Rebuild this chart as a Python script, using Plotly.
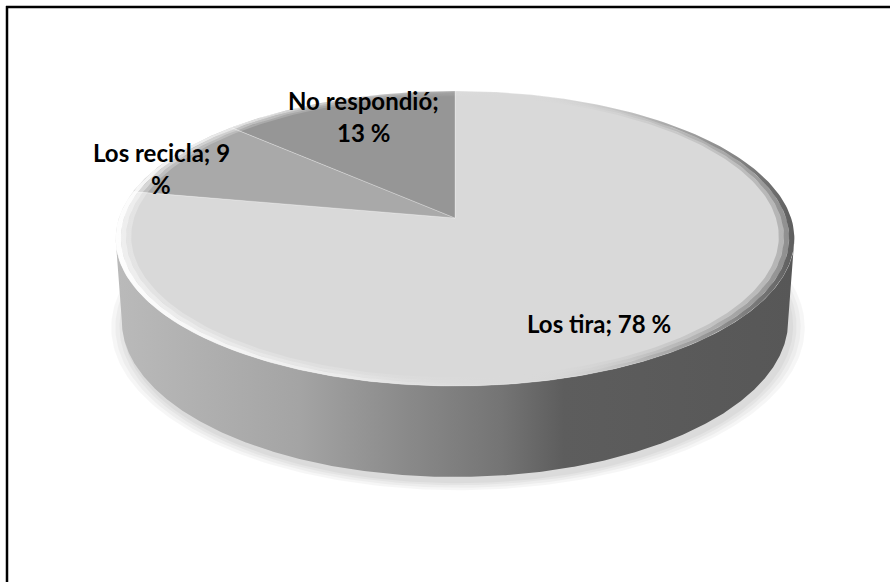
import numpy as np
import plotly.graph_objects as go

# ---------------- data ----------------
categories = ["Los tira", "Los recicla", "No respondió"]
values = [78, 9, 13]
slice_colors = ["#d9d9d9", "#a9a9a9", "#969696"]

# ---------------- view / projection (pixel space) ----------------
W, H = 890, 582
CX, CY = 455.0, 218.0          # screen position of pie centre
FOCAL = 2181.0
DIST = 6.49
TILT = np.radians(25.5)
DEPTH = 0.2736                 # cylinder height (radius units)


def proj(theta, r=1.0, yw=0.0):
    X = r * np.cos(theta)
    Z = r * np.sin(theta)
    c, s = np.cos(TILT), np.sin(TILT)
    yc = yw * c + Z * s
    zc = DIST + Z * c - yw * s
    return CX + FOCAL * X / zc, CY - FOCAL * yc / zc


fig = go.Figure()

# ---------------- soft shadow ----------------
th_full = np.linspace(0, 2 * np.pi, 361)
for k, rr in enumerate([1.04, 1.028, 1.016, 1.006]):
    sx, sy = proj(th_full, rr, -DEPTH)
    fig.add_trace(go.Scatter(x=sx + 3, y=sy + 5, mode="lines", fill="toself",
                             fillcolor="rgba(0,0,0,0.035)", line=dict(width=0),
                             hoverinfo="skip", showlegend=False))

# ---------------- side wall (front) ----------------
th = np.linspace(np.pi - 0.6, 2 * np.pi + 0.6, 721)
tx, ty = proj(th, 1.0, 0.0)
bx, by = proj(th, 1.0, -DEPTH)
it0, it1 = int(np.argmin(tx)), int(np.argmax(tx))
ib0, ib1 = int(np.argmin(bx)), int(np.argmax(bx))
side_x = np.concatenate([tx[it0:it1 + 1], bx[ib0:ib1 + 1][::-1]])
side_y = np.concatenate([ty[it0:it1 + 1], by[ib0:ib1 + 1][::-1]])
fig.add_trace(go.Scatter(
    x=side_x, y=side_y, mode="lines", fill="toself", line=dict(width=0),
    fillgradient=dict(type="horizontal",
                      colorscale=[[0, "#bababa"], [0.27, "#a4a4a4"], [0.42, "#8b8b8b"],
                                  [0.57, "#747474"], [0.66, "#5d5d5d"], [1, "#575757"]]),
    hoverinfo="skip", showlegend=False))

# ---------------- top slices ----------------
total = float(sum(values))
cum = 0.0
for cat, val, col in zip(categories, values, slice_colors):
    t0 = np.pi / 2 - 2 * np.pi * cum / total
    t1 = np.pi / 2 - 2 * np.pi * (cum + val) / total
    n = max(int(abs(t1 - t0) / (2 * np.pi) * 720), 8)
    ts = np.linspace(t0, t1, n)
    ax, ay = proj(ts)
    xs = np.concatenate([[CX], ax, [CX]])
    ys = np.concatenate([[CY], ay, [CY]])
    fig.add_trace(go.Scatter(x=xs, y=ys, mode="lines", fill="toself", fillcolor=col,
                             line=dict(width=0.6, color="rgba(255,255,255,0.45)"),
                             hoverinfo="skip", showlegend=False, name=cat))
    cum += val

# ---------------- bevel rim ----------------
for (r_out, r_in, a) in [(1.0, 0.985, 1.0), (0.985, 0.97, 0.6), (0.97, 0.955, 0.3)]:
    ox, oy = proj(th_full, r_out)
    ix, iy = proj(th_full[::-1], r_in)
    fig.add_trace(go.Scatter(
        x=np.concatenate([ox, ix]), y=np.concatenate([oy, iy]), mode="lines",
        fill="toself", line=dict(width=0),
        fillgradient=dict(type="horizontal",
                          colorscale=[[0, f"rgba(255,255,255,{0.95*a})"],
                                      [0.35, f"rgba(255,255,255,{0.45*a})"],
                                      [0.6, "rgba(217,217,217,0)"],
                                      [0.8, f"rgba(120,120,120,{0.45*a})"],
                                      [1, f"rgba(80,80,80,{0.9*a})"]]),
        hoverinfo="skip", showlegend=False))

# ---------------- data labels ----------------
label_lines = [
    [f"{categories[0]}; {values[0]} %"],
    [f"{categories[1]}; {values[1]}", "%"],
    [f"{categories[2]};", f"{values[2]} %"],
]
label_anchor = [(599, 323), (161, 152), (363, 100)]
LINE_GAP = 32
annotations = []
for lines, (lx, ly) in zip(label_lines, label_anchor):
    for j, txt in enumerate(lines):
        annotations.append(dict(x=lx, y=ly + j * LINE_GAP, xref="x", yref="y", text=txt,
                                showarrow=False, xanchor="center", yanchor="middle",
                                font=dict(family="Lato", size=24, color="#000000",
                                          weight="bold")))

fig.update_layout(
    width=W, height=H, margin=dict(l=0, r=0, t=0, b=0),
    paper_bgcolor="white", plot_bgcolor="white",
    xaxis=dict(range=[0, W], visible=False, fixedrange=True),
    yaxis=dict(range=[H, 0], visible=False, fixedrange=True),
    showlegend=False, annotations=annotations,
    shapes=[
        dict(type="line", xref="x", yref="y", x0=6, x1=W, y0=7, y1=7,
             line=dict(color="black", width=2.5)),
        dict(type="line", xref="x", yref="y", x0=7, x1=7, y0=6, y1=H,
             line=dict(color="black", width=2.5)),
    ],
)

fig.write_html("out.html")
